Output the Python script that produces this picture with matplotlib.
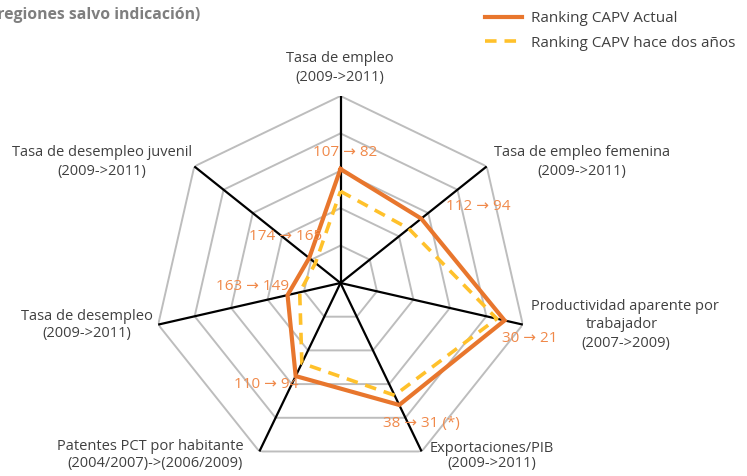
import numpy as np
import matplotlib
matplotlib.use("Agg")
import matplotlib.pyplot as plt
from matplotlib.lines import Line2D

# ---------------- data ----------------
categories = [
    "Tasa de empleo\n(2009->2011)",
    "Tasa de empleo femenina\n(2009->2011)",
    "Productividad aparente por\ntrabajador\n(2007->2009)",
    "Exportaciones/PIB\n(2009->2011)",
    "Patentes PCT por habitante\n(2004/2007)->(2006/2009)",
    "Tasa de desempleo\n(2009->2011)",
    "Tasa de desempleo juvenil\n(2009->2011)",
]
# rankings shown in the labels
rank_prev = [107, 112, 30, 38, 110, 163, 174]
rank_actual = [82, 94, 21, 31, 94, 149, 165]
extra_note = ["", "", "", " (*)", "", "", ""]
# values as plotted on the (inverted) ranking scale
plot_actual = [82, 94, 21, 58, 94, 149, 165]
plot_prev = [107, 112, 30, 70, 110, 163, 174]
scale_max = 210
n_rings = 5

series_names = ["Ranking CAPV Actual", "Ranking CAPV hace dos años"]
title_text = "(regiones salvo indicación)"

# ---------------- style ----------------
W, H = 747, 476
DPI = 100
FONT = ["Open Sans", "DejaVu Sans"]
TXT = "#404040"
ORANGE = "#E8762D"
YELLOW = "#FFC12B"
LBL_ORANGE = "#F0894A"
GRID = "#BDBDBD"

plt.rcParams["font.family"] = FONT

fig = plt.figure(figsize=(W / DPI, H / DPI), dpi=DPI)

def fx(x):
    return x / W

def fy(y):
    return 1 - y / H

cx, cy, R = 340.5, 283.0, 187.0
ax = fig.add_axes([fx(cx - R), fy(cy + R), 2 * R / W, 2 * R / H], projection="polar")
ax.set_theta_zero_location("N")
ax.set_theta_direction(-1)
ax.set_ylim(0, scale_max)
ax.grid(False)
ax.set_xticks([])
ax.set_yticks([])
ax.spines["polar"].set_visible(False)
ax.patch.set_alpha(0)

n = len(categories)
theta = np.linspace(0, 2 * np.pi, n, endpoint=False)
theta_c = np.append(theta, theta[0])

# polygon rings
for k in range(1, n_rings + 1):
    rr = scale_max * k / n_rings
    ax.plot(theta_c, [rr] * (n + 1), color=GRID, lw=1.4, zorder=1, solid_joinstyle="miter")

# spokes
for t in theta:
    ax.plot([t, t], [0, scale_max], color="black", lw=1.6, zorder=2)

def to_r(vals):
    v = np.array(vals, dtype=float)
    r = scale_max - v
    return np.append(r, r[0])

ax.plot(theta_c, to_r(plot_prev), color=YELLOW, lw=2.6, ls=(0, (3.2, 2.2)), zorder=3,
        dash_capstyle="butt")
ax.plot(theta_c, to_r(plot_actual), color=ORANGE, lw=3.0, zorder=4, solid_joinstyle="miter")

# category labels: each line placed separately (pixel x centers, y centers)
cat_x = [
    [340, 340],
    [582, 582],
    [625, 622, 626],
    [492, 492],
    [150, 155],
    [87, 87],
    [102, 102],
]
cat_y = [
    [58, 78],
    [153, 172],
    [307, 325, 343],
    [448, 464],
    [447, 463],
    [317, 334],
    [153, 172],
]
for lab, xs, ys in zip(categories, cat_x, cat_y):
    for line, x, y in zip(lab.split("\n"), xs, ys):
        fig.text(fx(x), fy(y), line, ha="center", va="center", fontsize=10.5, color=TXT)

# value labels
val_pos = [(345, 153), (478, 207), (530, 339), (421, 424), (266, 385), (253, 287), (286, 237)]
for a, b, note, (x, y) in zip(rank_prev, rank_actual, extra_note, val_pos):
    fig.text(fx(x), fy(y), f"{a} \u2192 {b}{note}", ha="center", va="center",
             fontsize=11, color=LBL_ORANGE)

# title fragment (cut at the left edge as in the original)
fig.text(fx(200), fy(15), title_text, ha="right", va="center", fontsize=11.3,
         fontweight="bold", color="#7F7F7F")

# legend
handles = [
    Line2D([], [], color=ORANGE, lw=3.0),
    Line2D([], [], color=YELLOW, lw=2.6, ls=(0, (3.2, 2.2))),
]
leg = fig.legend(handles, series_names, loc="upper left",
                 bbox_to_anchor=(fx(482), fy(8)), frameon=False, fontsize=11,
                 handlelength=2.4, handletextpad=0.6, labelspacing=0.62,
                 borderaxespad=0, borderpad=0.2)
for t in leg.get_texts():
    t.set_color(TXT)

fig.savefig("out.png", dpi=DPI)
